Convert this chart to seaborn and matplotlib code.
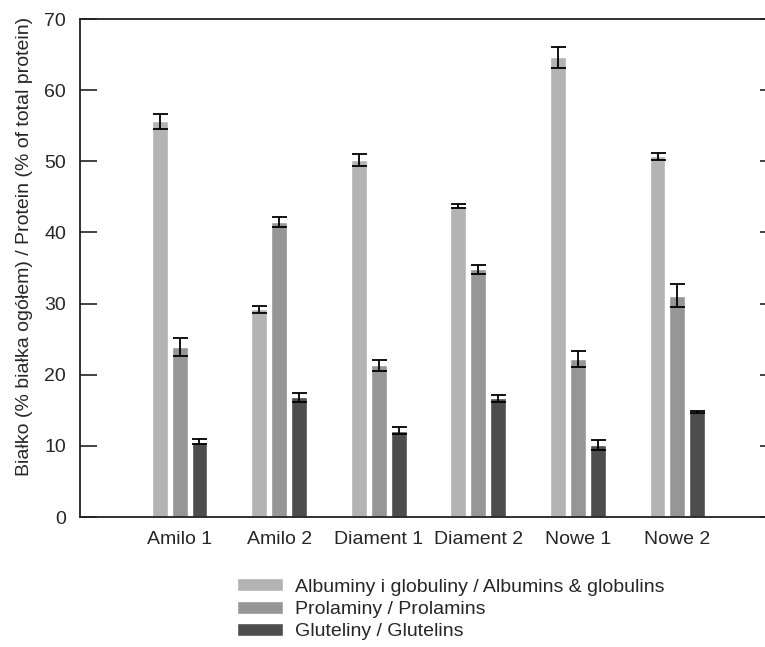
import numpy as np
import pandas as pd
import seaborn as sns
import matplotlib.pyplot as plt

varieties = ['Amilo 1', 'Amilo 2', 'Diament 1', 'Diament 2', 'Nowe 1', 'Nowe 2']
fractions = ['Albuminy i globuliny / Albumins & globulins',
             'Prolaminy / Prolamins',
             'Gluteliny / Glutelins']

albumins = [55.6, 29.2, 50.2, 43.7, 64.6, 50.7]
albumins_err = [1.0, 0.5, 0.8, 0.3, 1.5, 0.5]
prolamins = [23.9, 41.5, 21.3, 34.8, 22.2, 31.1]
prolamins_err = [1.3, 0.7, 0.8, 0.6, 1.1, 1.6]
glutelins = [10.6, 16.8, 12.1, 16.7, 10.1, 14.8]
glutelins_err = [0.4, 0.6, 0.5, 0.5, 0.7, 0.15]

colors = ['#b3b3b3', '#969696', '#4d4d4d']

rows = []
for frac, vals, errs in zip(fractions, [albumins, prolamins, glutelins],
                            [albumins_err, prolamins_err, glutelins_err]):
    for v, val, err in zip(varieties, vals, errs):
        rows.append({'variety': v, 'fraction': frac, 'value': val, 'err': err})
df = pd.DataFrame(rows)

sns.set_style('white')
plt.rcParams['font.family'] = ['Liberation Sans', 'DejaVu Sans']
fs = 14

fig = plt.figure(figsize=(7.65, 6.47), dpi=100)
ax = fig.add_axes([80 / 765, 130 / 647, 697 / 765, 498 / 647])

sns.barplot(data=df, x='variety', y='value', hue='fraction', order=varieties,
            hue_order=fractions, palette=colors, width=0.6, gap=0.2,
            errorbar=None, saturation=1, ax=ax, legend=True)

# error bars from the table, placed on the bars seaborn drew
for cont, frac in zip(ax.containers, fractions):
    sub = df[df['fraction'] == frac].set_index('variety').loc[varieties]
    xs = [p.get_x() + p.get_width() / 2 for p in cont.patches]
    ax.errorbar(xs, sub['value'], yerr=sub['err'], fmt='none', ecolor='black',
                elinewidth=1.3, capsize=5.4, capthick=1.3)

ax.set_xlim(-1, 6)
ax.set_ylim(0, 70)
ax.set_yticks(range(0, 71, 10))
ax.set_xlabel('')
ax.set_ylabel('Białko (% białka ogółem) / Protein (% of total protein)', fontsize=fs)
ax.yaxis.set_label_coords(-0.068, 0.544)

for s in ['left', 'top', 'bottom', 'right']:
    ax.spines[s].set_color('#222222')
    ax.spines[s].set_linewidth(1.3)
ax.tick_params(axis='y', direction='in', length=12, width=1.2, color='#222222',
               right=True, left=True, labelsize=fs, pad=10)
ax.tick_params(axis='x', length=0, labelsize=fs, pad=10)

handles, labels = ax.get_legend_handles_labels()
ax.get_legend().remove()
fig.legend(handles, labels, loc='upper left', bbox_to_anchor=(0.299, 0.118),
           frameon=False, handlelength=2.4, handleheight=0.65, labelspacing=0.25,
           handletextpad=0.6, fontsize=fs, borderaxespad=0)

fig.savefig('out.png', dpi=100)
